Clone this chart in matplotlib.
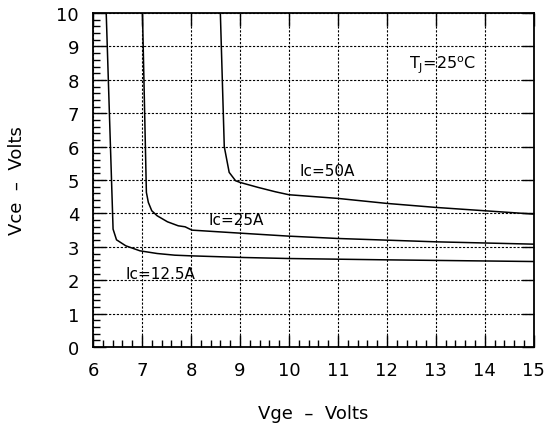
import matplotlib
matplotlib.use('Agg')
import matplotlib.pyplot as plt
import numpy as np

# Vce vs Vge, Tj = 25 C
vge_12 = [6.27, 6.41, 6.48, 6.67, 6.96, 7.31, 7.67, 8.0, 9.09, 10.0, 12.0, 15.0]
vce_12 = [10.0, 3.53, 3.21, 3.03, 2.88, 2.80, 2.75, 2.73, 2.68, 2.65, 2.61, 2.56]

vge_25 = [7.01, 7.09, 7.13, 7.20, 7.31, 7.52, 7.74, 7.88, 7.95, 8.02, 9.0, 10.0, 11.0, 12.0, 13.0, 15.0]
vce_25 = [10.0, 4.63, 4.33, 4.08, 3.93, 3.75, 3.63, 3.60, 3.55, 3.50, 3.41, 3.32, 3.25, 3.20, 3.15, 3.08]

vge_50 = [8.60, 8.68, 8.78, 8.91, 9.0, 9.37, 9.72, 10.0, 11.0, 12.0, 13.0, 14.0, 15.0]
vce_50 = [10.0, 6.00, 5.23, 4.98, 4.93, 4.78, 4.65, 4.56, 4.45, 4.30, 4.18, 4.08, 3.98]

curvas = [
    (vge_12, vce_12, 'Ic=12.5A', 6.67, 2.21),
    (vge_25, vce_25, 'Ic=25A', 8.36, 3.83),
    (vge_50, vce_50, 'Ic=50A', 10.22, 5.28),
]

fig = plt.figure(figsize=(5.47, 4.27), dpi=100)
ax = fig.add_axes([0.170, 0.185, 0.806, 0.782])

for x, y, rotulo, tx, ty in curvas:
    ax.plot(x, y, color='black', linewidth=1.1)
    ax.text(tx, ty, rotulo, fontsize=11, va='center', ha='left')

ax.text(12.45, 8.47, r'T$_\mathregular{J}$=25$^\mathregular{o}$C', fontsize=11.5, va='center', ha='left')

ax.set_xlim(6, 15)
ax.set_ylim(0, 10)
ax.set_xticks(np.arange(6, 16, 1))
ax.set_yticks(np.arange(0, 11, 1))
ax.set_xticks(np.arange(6, 15.01, 0.2), minor=True)
ax.set_yticks(np.arange(0, 10.01, 0.2), minor=True)

ax.grid(True, which='major', color='black', linestyle=(0, (2, 1.5)), linewidth=0.8)
ax.tick_params(which='major', direction='in', top=True, right=True, length=9, width=1,
               labelsize=13, pad=10)
ax.tick_params(which='minor', direction='in', top=False, right=False, length=5, width=1)
for s in ax.spines.values():
    s.set_linewidth(1.3)

ax.set_xlabel('Vge  –  Volts', fontsize=13, labelpad=18)
ax.set_ylabel('Vce  –  Volts', fontsize=13, labelpad=22)

fig.savefig('out.png', dpi=100)
